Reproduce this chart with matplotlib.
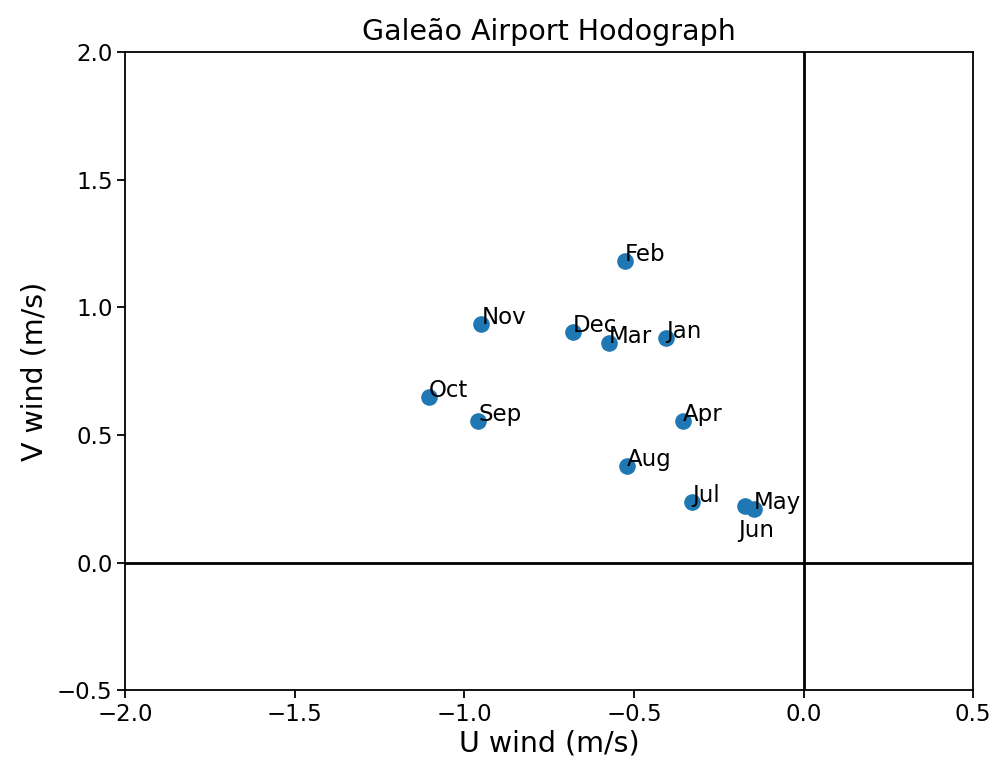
import matplotlib
matplotlib.use("Agg")
import matplotlib.pyplot as plt

months = ["Jan", "Feb", "Mar", "Apr", "May", "Jun",
          "Jul", "Aug", "Sep", "Oct", "Nov", "Dec"]
u_wind = [-0.405, -0.526, -0.573, -0.355, -0.146, -0.172,
          -0.328, -0.520, -0.959, -1.104, -0.950, -0.679]
v_wind = [0.879, 1.181, 0.860, 0.554, 0.209, 0.221,
          0.237, 0.378, 0.554, 0.648, 0.934, 0.903]

plt.rcParams["font.size"] = 16

fig = plt.figure(figsize=(9.93, 7.66), dpi=100)
ax = fig.add_axes([0.126, 0.099, 0.854, 0.833])

ax.scatter(u_wind, v_wind, s=120, color="#1f77b4", zorder=3)
for name, u, v in zip(months, u_wind, v_wind):
    if name == "Jun":
        # Jun sits on top of May, so its label goes underneath
        ax.text(u - 0.02, v - 0.12, name, fontsize=16.5, zorder=4)
    else:
        ax.text(u, v, name, fontsize=16.5, zorder=4)

ax.axhline(0, color="black", linewidth=2)
ax.axvline(0, color="black", linewidth=2)

ax.set_xlim(-2, 0.5)
ax.set_ylim(-0.5, 2)
ax.set_xticks([-2.0, -1.5, -1.0, -0.5, 0.0, 0.5])
ax.set_yticks([-0.5, 0.0, 0.5, 1.0, 1.5, 2.0])
for sp in ax.spines.values():
    sp.set_linewidth(1.3)
ax.tick_params(length=5.5, width=1.3, labelsize=16.5)

ax.set_title("Galeão Airport Hodograph", fontsize=20.5, pad=9)
ax.set_xlabel("U wind (m/s)", fontsize=20.5, labelpad=3)
ax.set_ylabel("V wind (m/s)", fontsize=20.5, labelpad=6)

fig.savefig("out.png", dpi=100)
